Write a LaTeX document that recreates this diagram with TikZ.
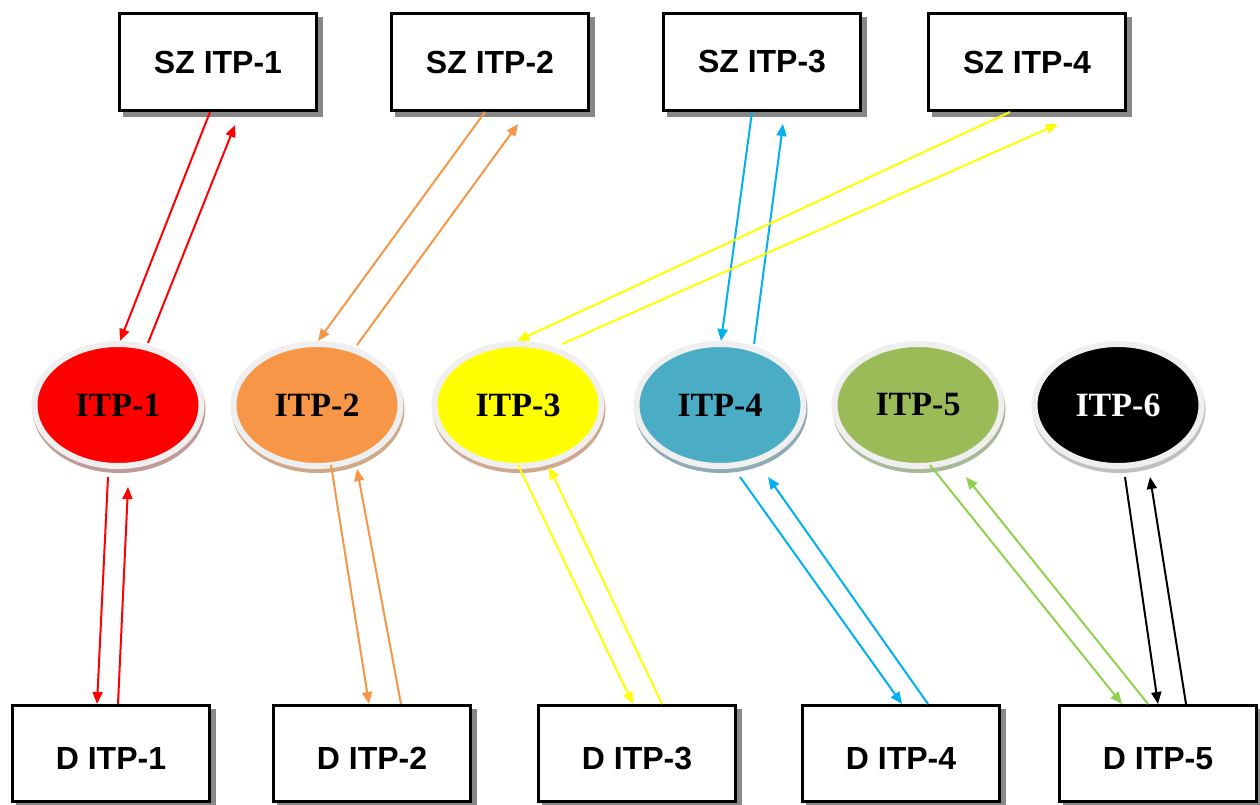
\documentclass[tikz,border=0pt]{standalone}
\usepackage{fontspec}
\setmainfont{Liberation Serif}
\newfontfamily\boxfont{Liberation Sans}
\usetikzlibrary{shapes.geometric, arrows.meta, calc}

\definecolor{itpred}{HTML}{FF0000}
\definecolor{itporange}{HTML}{F79646}
\definecolor{itpyellow}{HTML}{FFFF00}
\definecolor{itpblue}{HTML}{4BACC6}
\definecolor{itpgreen}{HTML}{9BBB59}
\definecolor{lnkblue}{HTML}{00B0F0}
\definecolor{lnkgreen}{HTML}{92D050}
\definecolor{ringgray}{HTML}{EFEFEF}
\definecolor{boxshadow}{HTML}{888888}
\definecolor{shred}{HTML}{C09A9A}
\definecolor{shorange}{HTML}{D0A888}
\definecolor{shyellow}{HTML}{D0A890}
\definecolor{shblue}{HTML}{90AAB4}
\definecolor{shgreen}{HTML}{A8B898}
\definecolor{shblack}{HTML}{C0C0C0}

\begin{document}
\begin{tikzpicture}[x=1pt, y=-1pt,
                itp/.style 2 args={ellipse, minimum width=167pt, minimum height=122pt, inner sep=0pt,
                        fill=#1, draw=ringgray, line width=6pt,
                        preaction={fill=#2, draw=#2, transform canvas={xshift=1pt, yshift=-4pt}},
                        font=\bfseries\fontsize{34}{40}\selectfont},
                szbox/.style={draw=black, fill=white, line width=3pt, minimum width=197pt, minimum height=97pt,
                        preaction={fill=boxshadow, draw=boxshadow, transform canvas={xshift=5pt, yshift=-5pt}},
                        font=\boxfont\bfseries\fontsize{32}{38}\selectfont},
                dbox/.style={szbox, minimum height=96pt, text height=31pt, text depth=0pt},
                link/.style={line width=2pt, -{Triangle[length=12pt, width=10pt]}}]
                \useasboundingbox (0,0) rectangle (1260,804);
                \node [szbox] (sz1) at (218,62) {SZ ITP-1};
                \node [szbox] (sz2) at (490,62) {SZ ITP-2};
                \node [szbox] (sz3) at (762,62) {SZ ITP-3};
                \node [szbox] (sz4) at (1027,62) {SZ ITP-4};
                \node [itp={itpred}{shred}] (itp1) at (118,405) {ITP-1};
                \node [itp={itporange}{shorange}] (itp2) at (317,405) {ITP-2};
                \node [itp={itpyellow}{shyellow}] (itp3) at (518,405) {ITP-3};
                \node [itp={itpblue}{shblue}] (itp4) at (720,405) {ITP-4};
                \node [itp={itpgreen}{shgreen}] (itp5) at (918,405) {ITP-5};
                \node [itp={black}{shblack}, text=white] (itp6) at (1118,405) {ITP-6};
                \node [dbox] (d1) at (111,753.5) {D ITP-1};
                \node [dbox] (d2) at (372,753.5) {D ITP-2};
                \node [dbox] (d3) at (637,753.5) {D ITP-3};
                \node [dbox] (d4) at (901,753.5) {D ITP-4};
                \node [dbox] (d5) at (1158,753.5) {D ITP-5};
                \draw [itpred, link] ($(sz1.south)+(-8,0)$) -- ($(itp1.north)+(2,0)$);
                \draw [itpred, link] ($(itp1.north)+(30,2)$) -- ($(sz1.south)+(17,13)$);
                \draw [itporange, link] ($(sz2.south)+(-5,0)$) -- ($(itp2.north)+(1,0)$);
                \draw [itporange, link] ($(itp2.north)+(40,4)$) -- ($(sz2.south)+(28,12)$);
                \draw [lnkblue, link] ($(sz3.south)+(-10,0)$) -- ($(itp4.north)+(1,0)$);
                \draw [lnkblue, link] ($(itp4.north)+(34,3)$) -- ($(sz3.south)+(21,12)$);
                \draw [itpyellow, link] ($(sz4.south)+(-17,0)$) -- ($(itp3.north)+(-1,0)$);
                \draw [itpyellow, link] ($(itp3.north)+(44,3)$) -- ($(sz4.south)+(31,12)$);
                \draw [itpred, link] ($(itp1.south)+(-10,8)$) -- ($(d1.north)+(-14,0)$);
                \draw [itpred, link] ($(d1.north)+(7,0)$) -- ($(itp1.south)+(10,18)$);
                \draw [itporange, link] ($(itp2.south)+(14,-4)$) -- ($(d2.north)+(-3,0)$);
                \draw [itporange, link] ($(d2.north)+(29,0)$) -- ($(itp2.south)+(40,0)$);
                \draw [itpyellow, link] ($(itp3.south)+(0,-4)$) -- ($(d3.north)+(-4,0)$);
                \draw [itpyellow, link] ($(d3.north)+(25,0)$) -- ($(itp3.south)+(31,-2)$);
                \draw [lnkblue, link] ($(itp4.south)+(20,8)$) -- ($(d4.north)+(1,0)$);
                \draw [lnkblue, link] ($(d4.north)+(27,0)$) -- ($(itp4.south)+(48,8)$);
                \draw [lnkgreen, link] ($(itp5.south)+(12,-4)$) -- ($(d5.north)+(-36,0)$);
                \draw [lnkgreen, link] ($(d5.north)+(-10,0)$) -- ($(itp5.south)+(48,8)$);
                \draw [black, link] ($(itp6.south)+(7,8)$) -- ($(d5.north)+(0,0)$);
                \draw [black, link] ($(d5.north)+(28,0)$) -- ($(itp6.south)+(32,8)$);
\end{tikzpicture}
\end{document}
